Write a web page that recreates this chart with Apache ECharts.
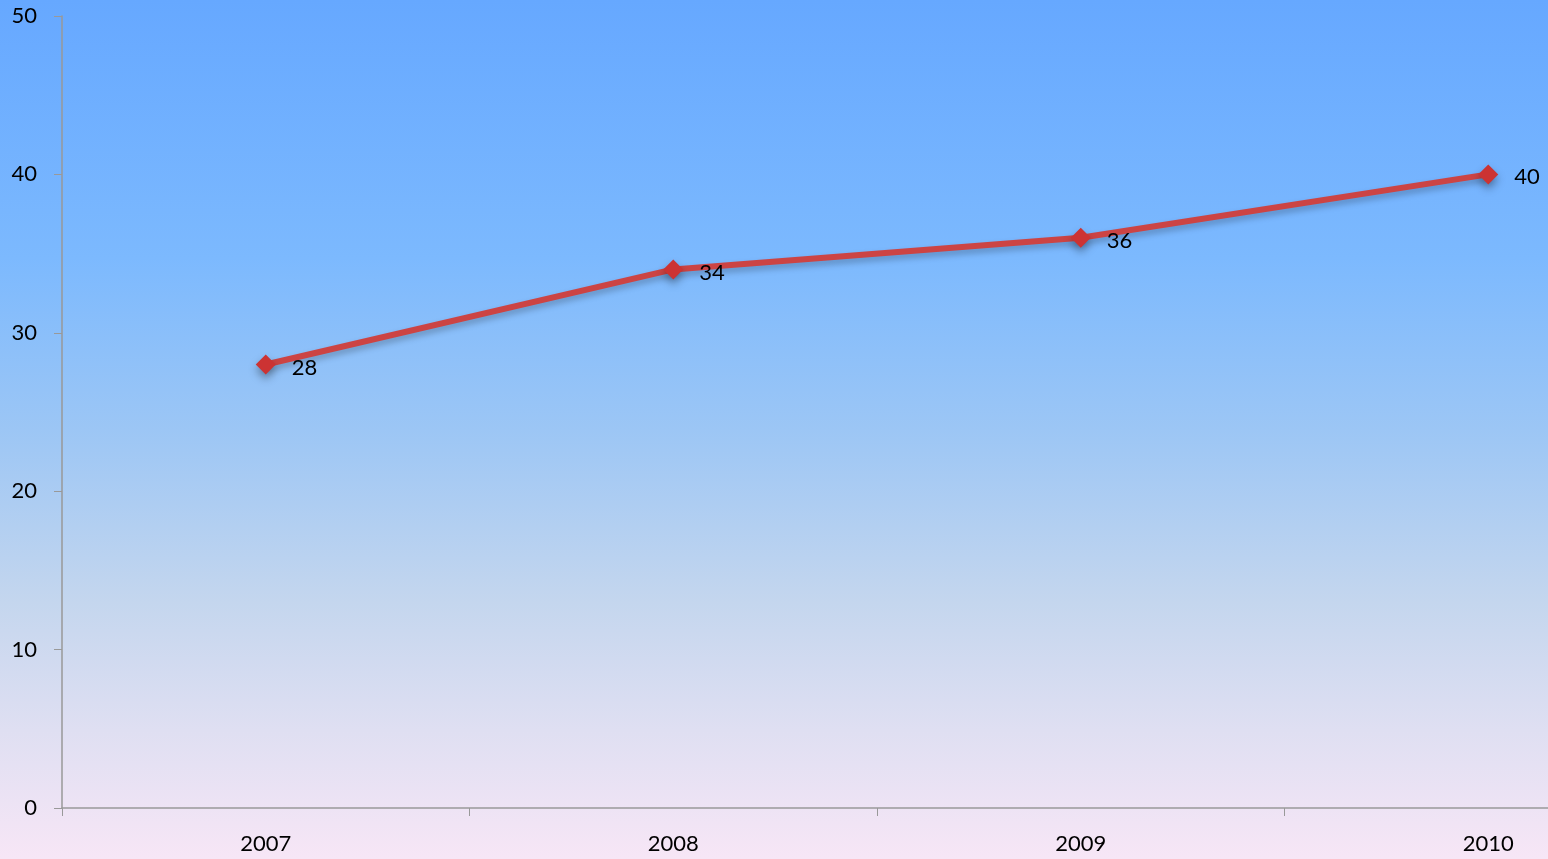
<!DOCTYPE html>
<html>
<head>
<meta charset="utf-8">
<style>
html,body{margin:0;padding:0;width:1548px;height:859px;overflow:hidden;}
#chart{width:1548px;height:859px;}
</style>
<script src="https://cdn.jsdelivr.net/npm/echarts@6/dist/echarts.min.js"></script>
</head>
<body>
<div id="chart"></div>
<script>
const categories = ['2007', '2008', '2009', '2010'];
const values = [28, 34, 36, 40];
const yTicks = [0, 10, 20, 30, 40, 50];

const chart = echarts.init(document.getElementById('chart'));
const font = 'Lato, "Open Sans", sans-serif';
chart.setOption({
  animation: false,
  backgroundColor: {
    type: 'linear', x: 0, y: 0, x2: 0, y2: 1,
    colorStops: [
      { offset: 0, color: '#66a8ff' },
      { offset: 0.3, color: '#7cb9fe' },
      { offset: 0.5, color: '#9cc6f5' },
      { offset: 0.7, color: '#c4d6ee' },
      { offset: 0.85, color: '#dfdff2' },
      { offset: 1, color: '#f7e6f6' }
    ]
  },
  grid: { left: 62, top: 16, height: 792, width: 1630, containLabel: false, outerBoundsMode: 'none' },
  xAxis: {
    type: 'category',
    data: categories,
    boundaryGap: true,
    axisLine: { show: true, lineStyle: { color: '#999999', width: 1.5 } },
    axisTick: { show: true, length: 8, lineStyle: { color: '#999999', width: 1 } },
    axisLabel: { color: '#000', fontSize: 22, fontFamily: font, margin: 25 },
    splitLine: { show: false }
  },
  yAxis: {
    type: 'value',
    min: yTicks[0],
    max: yTicks[yTicks.length - 1],
    interval: yTicks[1] - yTicks[0],
    axisLine: { show: true, lineStyle: { color: '#999999', width: 1.5 } },
    axisTick: { show: true, length: 8, lineStyle: { color: '#999999', width: 1 } },
    axisLabel: { color: '#000', fontSize: 22, fontFamily: font, margin: 25 },
    splitLine: { show: false }
  },
  series: [{
    type: 'line',
    data: values,
    symbol: 'diamond',
    symbolSize: 20,
    lineStyle: {
      color: '#cc4444', width: 6,
      shadowColor: 'rgba(0,0,0,0.25)', shadowBlur: 6, shadowOffsetY: 4
    },
    itemStyle: {
      color: '#cc3333',
      shadowColor: 'rgba(0,0,0,0.35)', shadowBlur: 8, shadowOffsetY: 5
    },
    label: {
      show: true, position: 'right', distance: 16, offset: [0, 3],
      color: '#000', fontSize: 22, fontFamily: font
    }
  }]
});
</script>
</body>
</html>
